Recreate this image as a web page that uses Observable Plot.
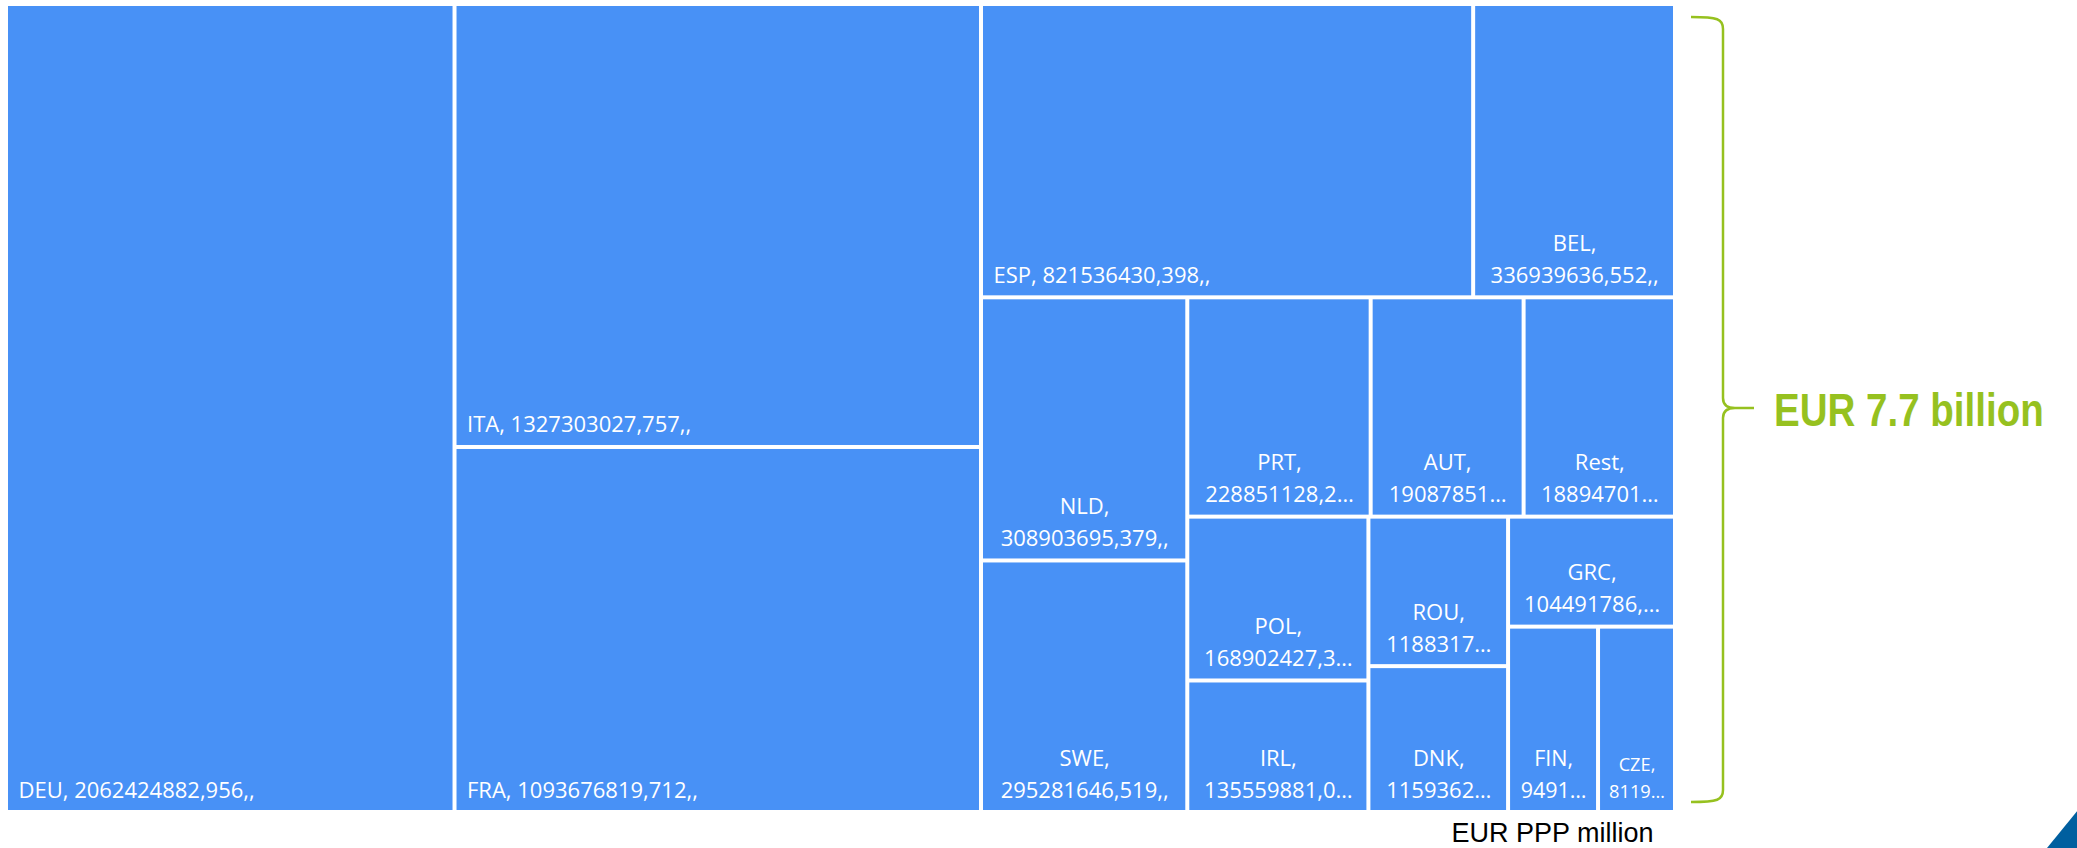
<!DOCTYPE html>
<html>
<head>
<meta charset="utf-8">
<script src="https://cdn.jsdelivr.net/npm/d3@7"></script>
<script src="https://cdn.jsdelivr.net/npm/@observablehq/plot@0.6"></script>
<style>
  html, body { margin: 0; padding: 0; background: #fff; }
  #chart svg { display: block; }
</style>
</head>
<body>
<div id="chart"></div>
<script>
// Countries and their values (EUR PPP), largest first
const countries = ["DEU", "ITA", "FRA", "ESP", "BEL", "NLD", "SWE", "PRT", "AUT", "Rest",
                   "POL", "IRL", "ROU", "DNK", "GRC", "FIN", "CZE"];
const values = [2062424882.956, 1327303027.757, 1093676819.712, 821536430.398, 336939636.552,
                308903695.379, 295281646.519, 228851128.214, 190878514.306, 188947012.633,
                168902427.318, 135559881.047, 118831745.582, 115936214.209, 104491786.125,
                94913307.471, 81193062.850];
const unitCaption = "EUR PPP million";
const currency = "EUR";

const W = 2077, H = 848;
const area = {x0: 8, y0: 6, x1: 1673, y1: 810};   // treemap box
const gap = 4;
const blue = "#4891f6";
const green = "#96c11f";

// Squarified tiling (ratio 1); the trailing cell is kept in the final row
function tileSquarify(parent, x0, y0, x1, y1) {
  const nodes = parent.children, n = nodes.length;
  let value = parent.value, i0 = 0, i1 = 0;
  while (i0 < n) {
    const dx = x1 - x0, dy = y1 - y0;
    let sumValue = nodes[i1++].value, minValue = sumValue, maxValue = sumValue;
    const alpha = Math.max(dy / dx, dx / dy) / value;
    let beta = sumValue * sumValue * alpha;
    let minRatio = Math.max(maxValue / beta, beta / minValue);
    for (; i1 < n; ++i1) {
      const v = nodes[i1].value;
      sumValue += v;
      if (v < minValue) minValue = v;
      if (v > maxValue) maxValue = v;
      beta = sumValue * sumValue * alpha;
      const newRatio = Math.max(maxValue / beta, beta / minValue);
      if (newRatio > minRatio && i1 < n - 1) { sumValue -= v; break; }
      minRatio = newRatio;
    }
    const row = {value: sumValue, children: nodes.slice(i0, i1)};
    if (dx < dy) d3.treemapDice(row, x0, y0, x1, y0 += dy * sumValue / value);
    else d3.treemapSlice(row, x0, y0, x0 += dx * sumValue / value, y1);
    value -= sumValue;
    i0 = i1;
  }
}

const root = d3.hierarchy({children: countries.map((code, i) => ({code, value: values[i]}))})
  .sum(d => d.value)
  .sort((a, b) => b.value - a.value);
d3.treemap()
  .tile(tileSquarify)
  .size([area.x1 - area.x0, area.y1 - area.y0])
  .paddingInner(gap)(root);

const cells = root.leaves().map(n => ({
  code: n.data.code,
  value: n.data.value,
  x0: n.x0 + area.x0, x1: n.x1 + area.x0,
  y0: n.y0 + area.y0, y1: n.y1 + area.y0
}));

// Label text: single line when it fits, otherwise "CODE," over the (clipped) number
const ctx = document.createElement("canvas").getContext("2d");
const labelFont = "Open Sans";
function textWidth(s, size, family = labelFont, weight = "normal") {
  ctx.font = `${weight} ${size}px "${family}"`;
  return ctx.measureText(s).width;
}
function clip(s, size, avail) {
  if (textWidth(s, size) <= avail) return s;
  for (let k = s.length - 1; k > 0; --k) {
    const t = s.slice(0, k) + "…";
    if (textWidth(t, size) <= avail) return t;
  }
  return "…";
}
for (const c of cells) {
  const w = c.x1 - c.x0;
  c.size = Math.min(22, w / 4);
  c.pad = Math.min(10, w * 0.1);
  const num = c.value.toFixed(3).replace(".", ",") + ",,";
  const one = `${c.code}, ${num}`;
  const avail = w - 2 * c.pad;
  if (textWidth(one, c.size) <= avail) {
    c.single = true;
    c.label = one;
  } else {
    c.single = false;
    c.label = `${c.code},\n${clip(num, c.size, avail)}`;
  }
}

const total = d3.sum(values);
const totalLabel = `${currency} ${d3.format(".1f")(total / 1e9)} billion`;

// Curly brace spanning the treemap with the total beside it, plus the corner decoration
function braceMark() {
  const xL = area.x1 + 18, xV = area.x1 + 50, xT = area.x1 + 81;
  const yT = area.y0 + 11, yB = area.y1 - 8, yM = (area.y0 + area.y1) / 2;
  const p = d3.path();
  p.moveTo(xL, yT);
  p.bezierCurveTo(xV - 5, yT, xV, yT + 2, xV, yT + 12);
  p.lineTo(xV, yM - 10);
  p.bezierCurveTo(xV, yM - 3, xV + 5, yM, xV + 12, yM);
  p.lineTo(xT, yM);
  p.moveTo(xV + 12, yM);
  p.bezierCurveTo(xV + 5, yM, xV, yM + 3, xV, yM + 10);
  p.lineTo(xV, yB - 12);
  p.bezierCurveTo(xV, yB - 2, xV - 5, yB, xL, yB);
  const g = d3.create("svg:g");
  g.append("path")
    .attr("d", p.toString())
    .attr("fill", "none")
    .attr("stroke", green)
    .attr("stroke-width", 2.5);
  // condensed bold total (horizontally narrowed)
  g.append("text")
    .attr("transform", `translate(${area.x1 + 101},${yM + 18}) scale(0.82,1)`)
    .attr("text-anchor", "start")
    .attr("font-family", "'Liberation Sans', Arial, sans-serif")
    .attr("font-weight", "bold")
    .attr("font-size", 47)
    .attr("fill", green)
    .text(totalLabel);
  g.append("path")
    .attr("d", `M${W - 30},${H}L${W + 10},${H - 49}L${W},${H}Z`)
    .attr("fill", "#005f9f");
  return g.node();
}

const chart = Plot.plot({
  width: W,
  height: H,
  margin: 0,
  x: {type: "identity", axis: null},
  y: {type: "identity", axis: null},
  style: {background: "#fff"},
  marks: [
    Plot.rect(cells, {x1: "x0", x2: "x1", y1: "y0", y2: "y1", fill: blue}),
    Plot.text(cells.filter(d => d.single), {
      x: d => d.x0 + d.pad, y: d => d.y1 - 13, text: "label",
      fontSize: "size", fontFamily: labelFont, fill: "white",
      textAnchor: "start", lineAnchor: "bottom"
    }),
    Plot.text(cells.filter(d => !d.single), {
      x: d => (d.x0 + d.x1) / 2, y: d => d.y1 - 13, text: "label",
      fontSize: "size", fontFamily: labelFont, fill: "white",
      textAnchor: "middle", lineAnchor: "bottom", lineHeight: 1.45
    }),
    braceMark,
    Plot.text([unitCaption], {
      x: area.x1 - 20, y: H - 7, text: d => d,
      fontSize: 27, fontFamily: "'Liberation Sans', Arial, sans-serif",
      fill: "#000", textAnchor: "end", lineAnchor: "bottom"
    })
  ]
});

document.getElementById("chart").appendChild(chart);
</script>
</body>
</html>
